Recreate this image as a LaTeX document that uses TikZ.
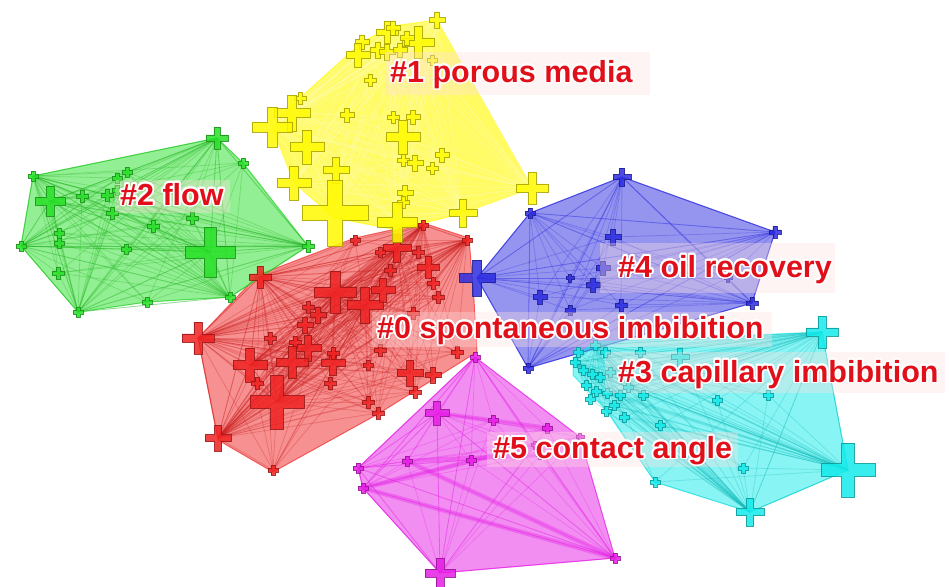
\documentclass[tikz,border=0pt]{standalone}
\usepackage{fontspec}
\setmainfont{Liberation Sans}
\usepackage{contour}
\contourlength{1.7pt}
\contournumber{24}

\definecolor{cyel}{RGB}{255,250,0}
\definecolor{cgrn}{RGB}{40,225,40}
\definecolor{cred}{RGB}{240,35,35}
\definecolor{cblu}{RGB}{45,45,225}
\definecolor{ccyn}{RGB}{20,235,235}
\definecolor{cmag}{RGB}{230,30,230}
\definecolor{labred}{RGB}{225,15,25}

\tikzset{
  hull/.style={fill=#1, fill opacity=.5, draw=#1, draw opacity=.65, line width=1pt, line join=round},
  link/.style={draw=#1, draw opacity=.28, line width=.8pt},
  band/.style={draw=#1, draw opacity=.35, line width=4.5pt, line cap=round},
  labbg/.style={fill=red!12, fill opacity=.35},
  lab/.style={text=labred, inner sep=0pt, anchor=base west,
    font=\fontsize{30.5}{35}\selectfont\bfseries},
  pics/plus/.style 2 args={code={
    \pgfmathsetmacro\w{0.2*#1+0.9}
    \filldraw[fill=#2, fill opacity=.85, draw=#2!65!black, draw opacity=.85, line width=.6pt]
      (-#1,-\w) -- (-\w,-\w) -- (-\w,-#1) -- (\w,-#1) -- (\w,-\w) -- (#1,-\w)
      -- (#1,\w) -- (\w,\w) -- (\w,#1) -- (-\w,#1) -- (-\w,\w) -- (-#1,\w) -- cycle;
  }}
}

% cluster members: name/x/y/half-size
\def\ynodes{1/437/20/8, 2/387/32/11, 3/393/28/7, 4/418/42/16, 5/407/38/7, 6/362/42/7,
  7/358/55/12, 8/378/50/8, 9/387/52/8, 10/400/50/7, 11/432/60/5, 12/370/80/6,
  13/300/98/6, 14/292/113/18, 15/272/127/20, 16/347/115/7, 17/393/117/6, 18/413/117/7,
  19/307/147/17, 20/403/137/17, 21/442/155/7, 22/403/160/6, 23/415/163/8, 24/432/168/6,
  25/336/170/13, 26/294/183/17, 27/335/213/33, 28/405/193/8, 29/403/202/6, 30/397/222/20,
  31/463/213/14, 32/532/188/16}
\def\gnodes{1/33/176/5, 2/217/138/11, 3/243/163/5, 4/50/201/15, 5/82/196/6, 6/107/195/6,
  7/127/172/5, 8/117/190/5, 9/112/213/6, 10/153/226/6, 11/192/218/6, 12/59/233/5,
  13/59/243/5, 14/126/249/5, 15/210/252/25, 16/58/273/6, 17/21/246/5, 18/308/246/6,
  19/230/297/5, 20/147/302/5, 21/78/312/5, 22/117/178/5}
\def\rnodes{1/355/240/5, 2/423/225/5, 3/467/240/5, 4/397/248/14, 5/380/252/5, 6/418/252/6,
  7/390/270/6, 8/428/267/11, 9/433/283/6, 10/438/297/6, 11/260/277/11, 12/335/292/21,
  13/365/305/18, 14/383/290/12, 15/308/307/6, 16/413/313/6, 17/198/338/16, 18/270/338/6,
  19/305/325/8, 20/308/348/13, 21/295/342/6, 22/250/365/17, 23/292/362/16, 24/333/363/12,
  25/333/353/6, 26/380/350/6, 27/368/365/5, 28/410/373/13, 29/433/375/8, 30/457/352/6,
  31/257/383/6, 32/330/383/6, 33/415/392/6, 34/368/402/6, 35/378/413/6, 36/277/402/27,
  37/218/438/13, 38/273/470/5, 39/318/315/8}
\def\bnodes{1/622/177/9, 2/530/213/5, 3/775/232/6, 4/477/278/18, 5/613/237/8, 6/603/268/7,
  7/593/285/7, 8/540/297/7, 9/570/278/4, 10/570/310/5, 11/621/305/6, 12/752/303/6,
  13/528/368/5, 14/728/278/4}
\def\cnodes{1/822/332/16, 2/848/470/27, 3/750/512/14, 4/655/482/5, 5/743/468/5, 6/660/425/5,
  7/717/400/5, 8/768/395/5, 9/680/357/9, 10/640/352/5, 11/595/345/5, 12/605/352/5,
  13/575/362/5, 14/583/370/5, 15/592/374/5, 16/600/377/5, 17/610/372/5, 18/586/385/5,
  19/596/391/5, 20/607/393/5, 21/620/395/5, 22/614/405/5, 23/606/411/5, 24/590/399/5,
  25/628/387/5, 26/643/395/5, 27/624/417/5, 28/578/352/5}
\def\mnodes{1/475/357/5, 2/437/413/12, 3/493/420/5, 4/547/428/5, 5/407/461/5, 6/471/460/5,
  7/540/455/4, 8/358/468/5, 9/363/488/5, 10/615/558/5, 11/440/573/15, 12/535/445/4, 13/580/437/4}

\begin{document}
\begin{tikzpicture}[x=1pt,y=-1pt]
\useasboundingbox (0,0) rectangle (949,586);
\fill[white] (0,0) rectangle (949,586);

% member positions
\foreach \n/\x/\y/\s in \ynodes {\coordinate (y\n) at (\x,\y);}
\foreach \n/\x/\y/\s in \gnodes {\coordinate (g\n) at (\x,\y);}
\foreach \n/\x/\y/\s in \rnodes {\coordinate (r\n) at (\x,\y);}
\foreach \n/\x/\y/\s in \bnodes {\coordinate (b\n) at (\x,\y);}
\foreach \n/\x/\y/\s in \cnodes {\coordinate (c\n) at (\x,\y);}
\foreach \n/\x/\y/\s in \mnodes {\coordinate (m\n) at (\x,\y);}

% cluster areas
\path[hull=cred] (198,338) -- (258,275) -- (355,238) -- (423,223) -- (469,238) -- (474,300)
  -- (477,352) -- (378,414) -- (273,472) -- (218,440) -- cycle;
\path[hull=cgrn] (33,176) -- (217,138) -- (243,163) -- (308,246) -- (230,297) -- (147,302)
  -- (78,312) -- (21,246) -- cycle;
\path[hull=cyel, fill opacity=.62] (437,20) -- (532,188) -- (463,213) -- (397,230) -- (335,218) -- (294,183)
  -- (272,127) -- (300,98) -- (362,42) -- (393,26) -- cycle;
\path[hull=cblu] (530,213) -- (622,177) -- (775,232) -- (752,303) -- (528,368) -- (477,278) -- cycle;
\path[hull=ccyn] (573,358) -- (595,342) -- (822,332) -- (848,470) -- (750,512) -- (655,482)
  -- (606,410) -- (573,375) -- cycle;
\path[hull=cmag] (475,357) -- (580,437) -- (615,558) -- (440,573) -- (363,488) -- (358,468) -- cycle;

% co-citation links
\foreach \a in {1,32,15,27,30,31,2,4,14,26}{\foreach \b in {1,...,32}{\draw[link=cyel!30!white] (y\a) -- (y\b);}}
\foreach \a in {2,18,1,17,21,15,4,19}{\foreach \b in {1,...,22}{\draw[link=cgrn!80!black] (g\a) -- (g\b);}}
\foreach \a in {17,36,37,12,13,2,3,22,11,4}{\foreach \b in {1,...,39}{\draw[link=cred!85!black] (r\a) -- (r\b);}}
\foreach \a in {4,1,3,2,12,13}{\foreach \b in {1,...,14}{\draw[link=cblu] (b\a) -- (b\b);}}
\foreach \a in {2,1,3,13,11}{\foreach \b in {1,...,28}{\draw[link=ccyn!80!black] (c\a) -- (c\b);}}
\foreach \a in {1,11,10,9,8,2}{\foreach \b in {1,...,13}{\draw[link=cmag] (m\a) -- (m\b);}}
\draw[band=cmag] (m2) -- (m4);
\draw[band=cmag] (m9) -- (m12);
\draw[band=cmag] (m5) -- (m7);
\draw[band=cmag] (m9) -- (m10);
\draw[band=cmag] (m5) -- (m10);

% cited references
\foreach \n/\x/\y/\s in \rnodes {\pic at (r\n) {plus={\s}{cred}};}
\foreach \n/\x/\y/\s in \gnodes {\pic at (g\n) {plus={\s}{cgrn}};}
\foreach \n/\x/\y/\s in \ynodes {\pic at (y\n) {plus={\s}{cyel}};}
\foreach \n/\x/\y/\s in \bnodes {\pic at (b\n) {plus={\s}{cblu}};}
\foreach \n/\x/\y/\s in \cnodes {\pic at (c\n) {plus={\s}{ccyn}};}
\foreach \n/\x/\y/\s in \mnodes {\pic at (m\n) {plus={\s}{cmag}};}

% cluster labels with a white halo
\fill[labbg] (385,52) rectangle (650,95);
\fill[labbg] (115,180) rectangle (230,213);
\fill[labbg] (600,243) rectangle (835,293);
\fill[labbg] (372,312) rectangle (772,347);
\fill[labbg] (605,352) rectangle (945,393);
\fill[labbg] (487,432) rectangle (738,467);
\node[lab] (l1) at (390,82) {\contour{white}{\#1 porous media}};
\node[lab] (l2) at (120,205) {\contour{white}{\#2 flow}};
\node[lab] (l4) at (618,277) {\contour{white}{\#4 oil recovery}};
\node[lab] (l0) at (377,338) {\contour{white}{\#0 spontaneous imbibition}};
\node[lab] (l3) at (618,382) {\contour{white}{\#3 capillary imbibition}};
\node[lab] (l5) at (493,458) {\contour{white}{\#5 contact angle}};
\end{tikzpicture}
\end{document}
